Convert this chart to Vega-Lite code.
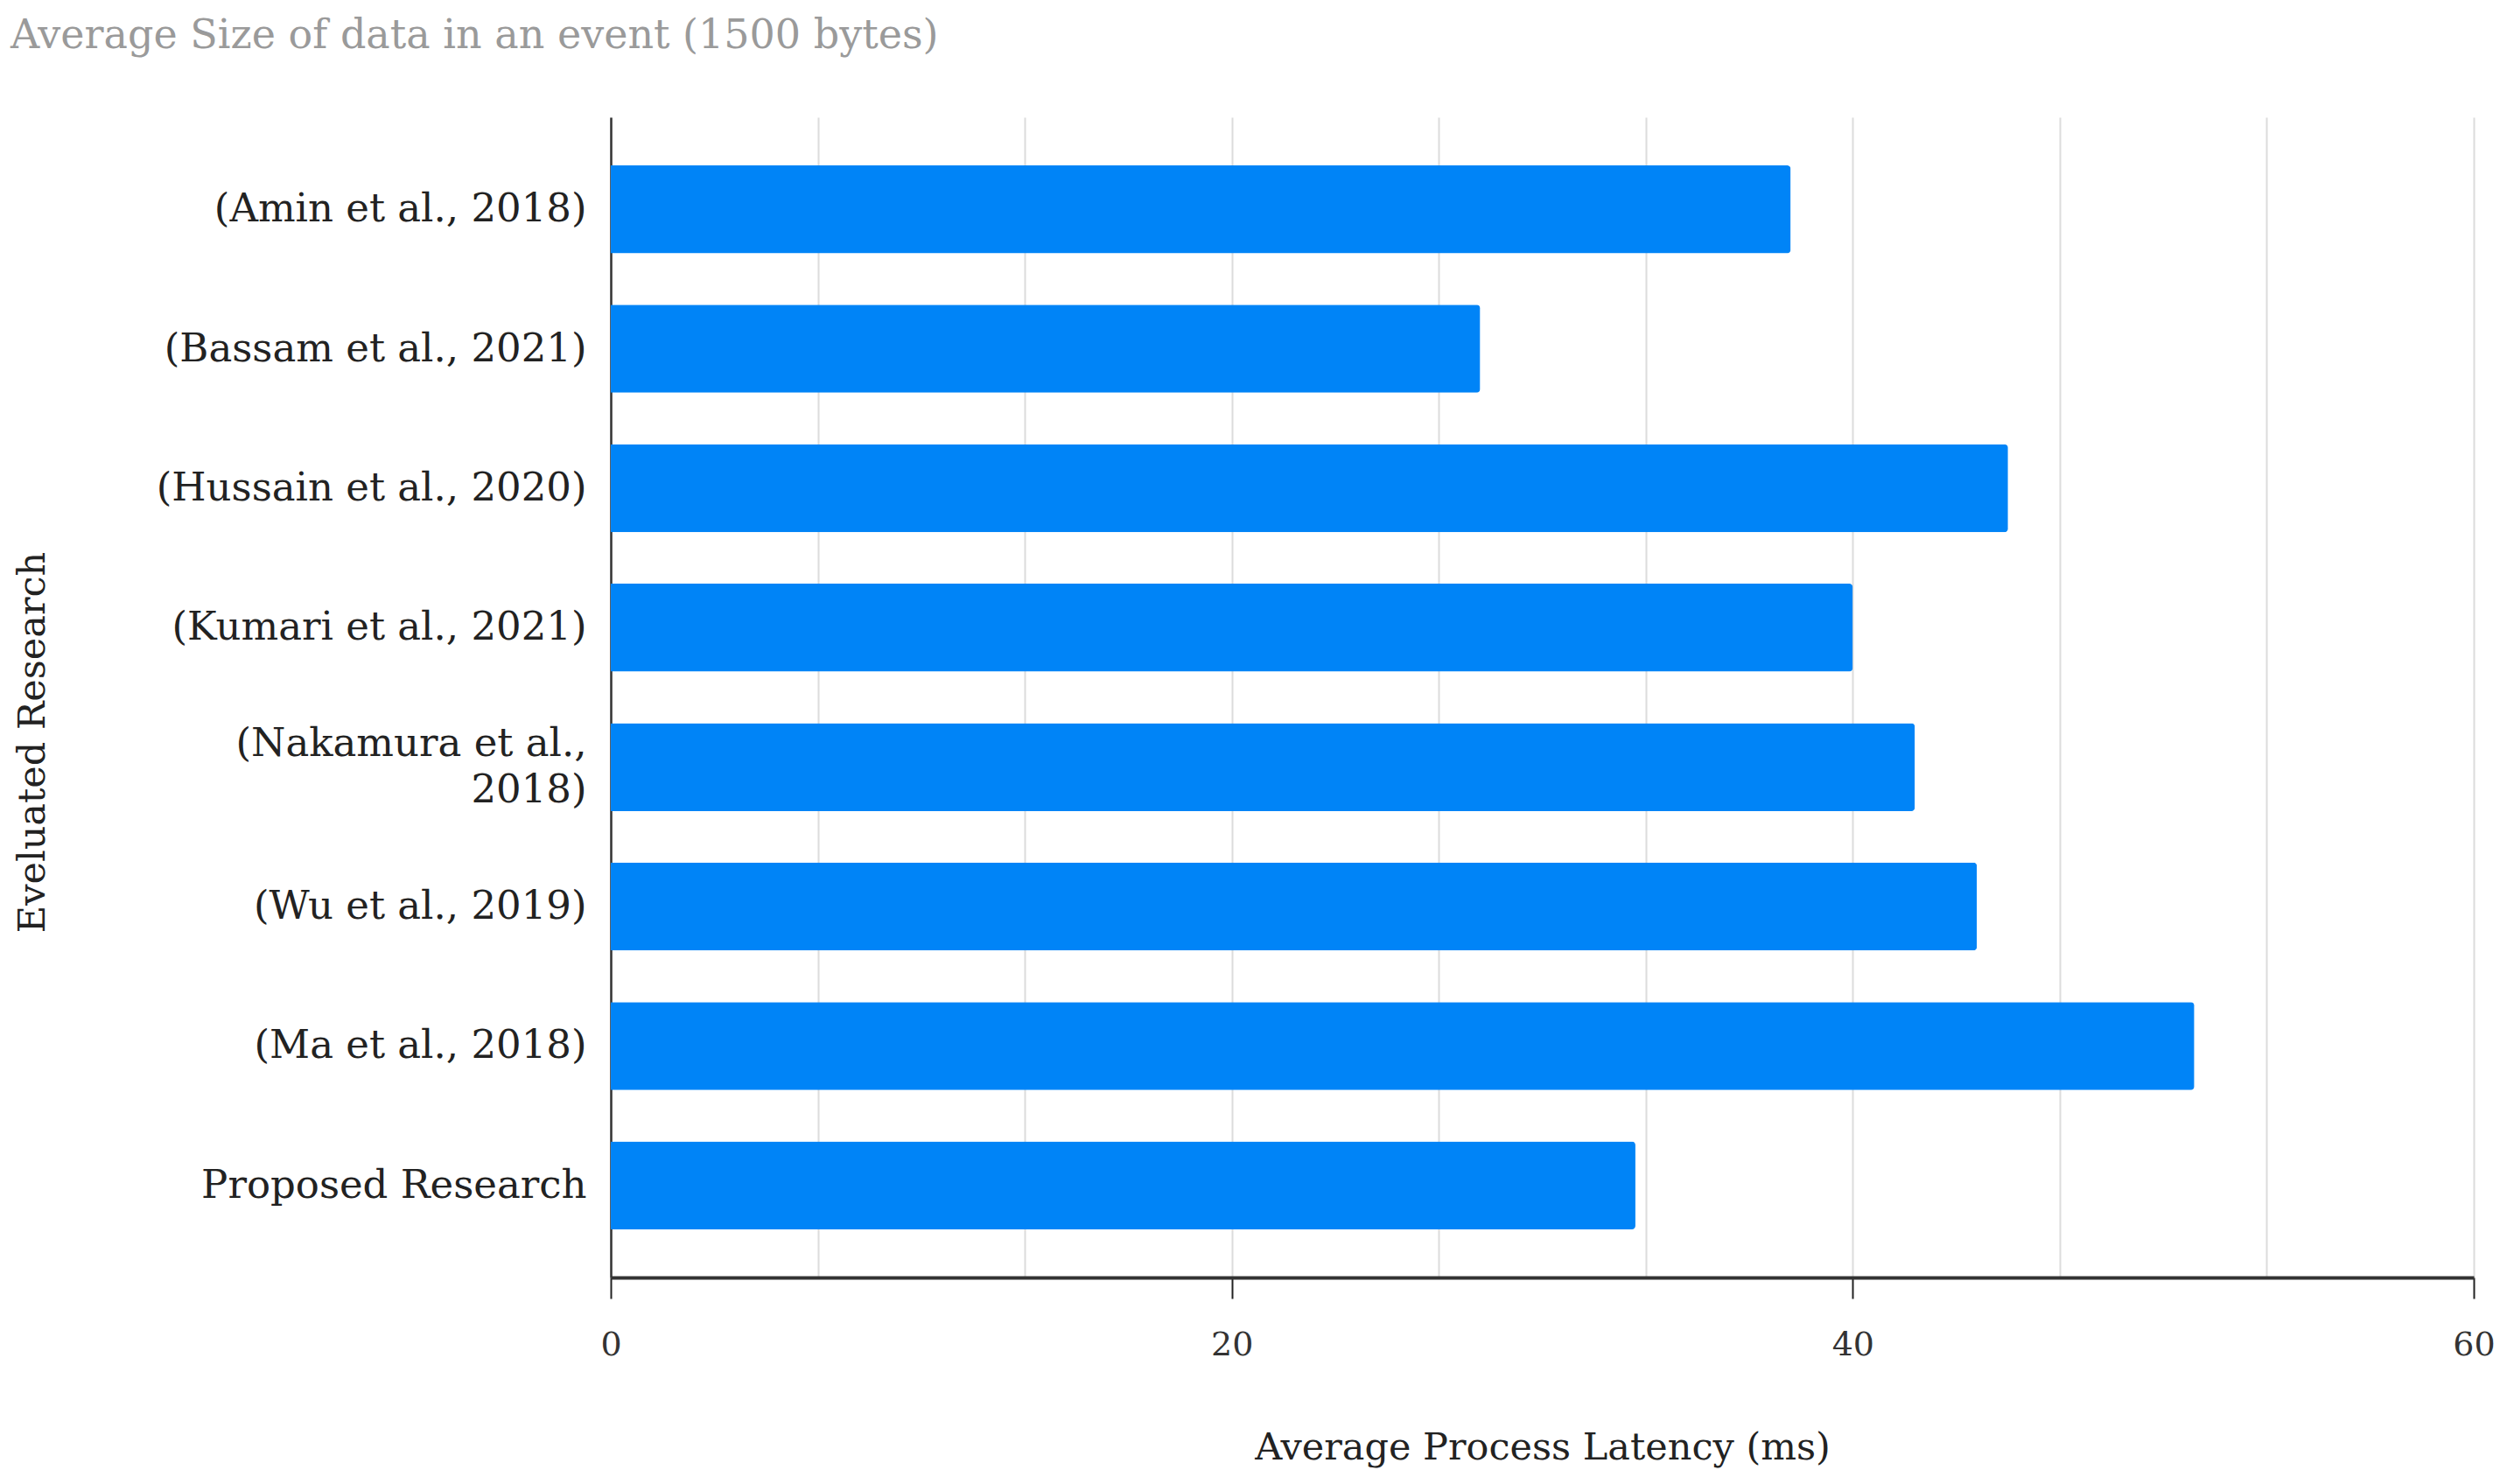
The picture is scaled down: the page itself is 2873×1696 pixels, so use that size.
{
  "$schema": "https://vega.github.io/schema/vega-lite/v6.json",
  "autosize": {"type": "none"},
  "padding": {"left": 698, "top": 134, "right": 46, "bottom": 236},
  "width": 2129,
  "height": 1326,
  "background": "white",
  "title": {
    "text": "Average Size of data in an event (1500 bytes)",
    "anchor": "start",
    "frame": "group",
    "dx": -686,
    "offset": 33,
    "baseline": "alphabetic",
    "font": "DejaVu Serif",
    "fontSize": 46,
    "fontWeight": "normal",
    "color": "#9a9a9a"
  },
  "data": {
    "values": [
      {"research": "(Amin et al., 2018)", "latency": 38},
      {"research": "(Bassam et al., 2021)", "latency": 28},
      {"research": "(Hussain et al., 2020)", "latency": 45},
      {"research": "(Kumari et al., 2021)", "latency": 40},
      {"research": "(Nakamura et al., 2018)", "latency": 42},
      {"research": "(Wu et al., 2019)", "latency": 44},
      {"research": "(Ma et al., 2018)", "latency": 51},
      {"research": "Proposed Research", "latency": 33}
    ]
  },
  "mark": {"type": "bar", "color": "#0084F7", "cornerRadiusEnd": 4},
  "encoding": {
    "y": {
      "field": "research",
      "type": "nominal",
      "sort": null,
      "scale": {"paddingInner": 0.37, "paddingOuter": 0.345},
      "axis": {
        "title": "Eveluated Research",
        "titleFont": "DejaVu Serif",
        "titleFontSize": 43,
        "titleFontWeight": "normal",
        "titleColor": "#222",
        "titleAngle": -90,
        "titleX": -661,
        "titleY": 714,
        "titleBaseline": "middle",
        "titleAlign": "center",
        "labelFont": "DejaVu Serif",
        "labelFontSize": 45,
        "labelColor": "#222",
        "labelPadding": 28,
        "labelLimit": 1000,
        "labelLineHeight": 53,
        "labelOffset": {"condition": {"test": "datum.label == '(Nakamura et al., 2018)'", "value": -27}, "value": 0},
        "labelExpr": "datum.label == '(Nakamura et al., 2018)' ? ['(Nakamura et al.,', '2018)'] : datum.label",
        "ticks": false,
        "domain": true,
        "domainColor": "#333",
        "domainWidth": 2.5,
        "grid": false
      }
    },
    "x": {
      "field": "latency",
      "type": "quantitative",
      "scale": {"domain": [0, 60], "nice": false},
      "axis": {
        "title": "Average Process Latency (ms)",
        "titleFont": "DejaVu Serif",
        "titleFontSize": 43,
        "titleFontWeight": "normal",
        "titleColor": "#222",
        "titleY": 194,
        "titleBaseline": "middle",
        "values": [0, 6.6667, 13.3333, 20, 26.6667, 33.3333, 40, 46.6667, 53.3333, 60],
        "labelExpr": "abs(datum.value - round(datum.value/20)*20) < 0.01 ? format(datum.value, 'd') : ''",
        "labelFont": "DejaVu Serif",
        "labelFontSize": 38,
        "labelColor": "#333",
        "labelPadding": 34,
        "labelFlush": false,
        "tickSize": 24,
        "tickWidth": 2,
        "tickColor": {"condition": {"test": "abs(datum.value - round(datum.value/20)*20) < 0.01", "value": "#222"}, "value": "transparent"},
        "domainColor": "#333",
        "domainWidth": 4,
        "grid": true,
        "gridColor": "#dcdcdc",
        "gridWidth": 2
      }
    }
  },
  "config": {"view": {"stroke": null}}
}
